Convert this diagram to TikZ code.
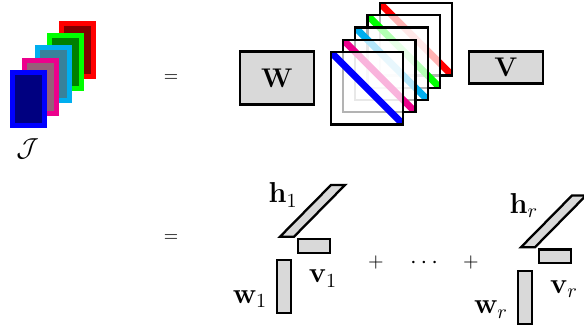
\documentclass[tikz,border=0pt]{standalone}
\usepackage{fix-cm}
\usepackage{tikz}
\definecolor{ProcMagenta}{RGB}{236,0,140}
\definecolor{ProcCyan}{RGB}{0,174,239}
\definecolor{coreMagenta}{RGB}{150,95,120}
\definecolor{coreCyan}{RGB}{55,130,155}
\tikzstyle{factor} = [rectangle, draw=black, fill=black!15, line width=1.15pt, inner sep=0pt, font=\fontsize{13.5}{15}\selectfont]
\tikzstyle{slab} = [draw=black, fill=black!15, line width=1.15pt, line join=miter]
\tikzstyle{sheet} = [line width=2.5pt]
\tikzstyle{frontier} = [draw=black, line width=1.2pt]
\tikzstyle{stripe} = [line width=3.5pt]
\tikzstyle{symb} = [font=\small, inner sep=0pt]
\tikzstyle{lab} = [font=\Large, inner sep=0pt]

\begin{document}
\begin{tikzpicture}[x=0.5pt, y=-0.5pt]
  \useasboundingbox (0, 0) rectangle (584, 331);

  % tensor
  \foreach \o/\col/\core in {49/red/red!50!black, 36.75/green/green!50!black, 24.5/ProcCyan/coreCyan, 12.25/ProcMagenta/coreMagenta, 0/blue/blue!50!black}
    \draw[sheet, draw=\col, fill=\core, shift={(\o, -\o)}] (12.5, 72.5) rectangle (44.5, 125.5);
  \node[font=\fontsize{13}{15}\selectfont, inner sep=0pt] (tensor) at (27.5, 149) {$\mathcal{J}$};

  \node[symb] (eqtop) at (171, 78) {$=$};
  \node[symb] (eqbot) at (171, 238) {$=$};

  % factorization
  \node[factor, minimum width=37pt, minimum height=26.5pt] (W) at (277, 78) {$\mathbf{W}$};
  \node[factor, minimum width=37pt, minimum height=16pt] (V) at (506, 67.5) {$\mathbf{V}$};

  \foreach \o/\col in {49/red, 36.75/green, 24.5/ProcCyan, 12.25/ProcMagenta, 0/blue} {
    \begin{scope}[shift={(\o, -\o)}]
      \fill[white, opacity=0.7] (330.7, 52) rectangle (403.2, 124.5);
      \begin{scope}
        \clip (330.7, 52) rectangle (403.2, 124.5);
        \draw[stripe, \col] (330.7, 52) -- (403.2, 124.5);
      \end{scope}
      \draw[frontier] (330.7, 52) rectangle (403.2, 124.5);
    \end{scope}
  }

  % rank one terms
  \foreach \s/\dx/\dy in {1/0/0, r/241/10.5} {
    \begin{scope}[shift={(\dx, \dy)}]
      \draw[slab] (280, 236.7) -- (294, 236.7) -- (345, 185) -- (331, 185) -- cycle;
      \draw[slab] (298.3, 239) rectangle (330.3, 252.7);
      \draw[slab] (276.7, 260.3) rectangle (290.7, 313.3);
      \node[lab] (h\s) at (283, 195) {$\mathbf{h}_\s$};
      \node[lab] (v\s) at (323, 278.5) {$\mathbf{v}_\s$};
      \node[lab] (w\s) at (250, 299) {$\mathbf{w}_\s$};
    \end{scope}
  }

  \node[font=\normalsize, inner sep=0pt] (plusa) at (376, 263) {$+$};
  \node[font=\large, inner sep=0pt] (dots) at (424, 263) {$\cdots$};
  \node[font=\normalsize, inner sep=0pt] (plusb) at (471, 263) {$+$};

\end{tikzpicture}
\end{document}
